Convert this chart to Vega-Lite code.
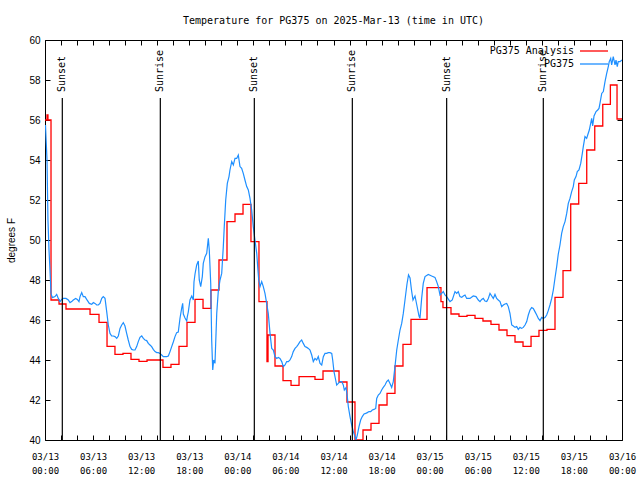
{
"$schema": "https://vega.github.io/schema/vega-lite/v6.json",
"width": 577, "height": 400,
"autosize": {"type": "none"},
"padding": {"left": 45, "top": 40, "right": 18, "bottom": 40},
"background": "white",
"title": {"text": "Temperature for PG375 on 2025-Mar-13 (time in UTC)", "font": "DejaVu Sans Mono", "fontSize": 10, "fontWeight": "normal", "color": "black", "anchor": "middle", "frame": "group", "offset": 9},
"config": {"view": {"stroke": "black", "strokeWidth": 1}, "axis": {"grid": false, "domain": false, "tickColor": "black", "labelColor": "black", "titleColor": "black", "tickWidth": 1}},
"datasets": {
"events": [
{"hour": 2.16, "event": "Sunset"}, {"hour": 14.39, "event": "Sunrise"}, {"hour": 26.12, "event": "Sunset"}, {"hour": 38.35, "event": "Sunrise"}, {"hour": 50.12, "event": "Sunset"}, {"hour": 62.18, "event": "Sunrise"}
],
"temps": [
{"hour":0,"temp":56.0,"series":"PG375 Analysis"},{"hour":0.25,"temp":56.25,"series":"PG375 Analysis"},{"hour":0.37,"temp":56.0,"series":"PG375 Analysis"},{"hour":0.75,"temp":47.0,"series":"PG375 Analysis"},{"hour":1.75,"temp":46.8,"series":"PG375 Analysis"},{"hour":2.62,"temp":46.55,"series":"PG375 Analysis"},{"hour":5.62,"temp":46.28,"series":"PG375 Analysis"},{"hour":6.74,"temp":45.88,"series":"PG375 Analysis"},{"hour":7.74,"temp":44.68,"series":"PG375 Analysis"},{"hour":8.73,"temp":44.28,"series":"PG375 Analysis"},{"hour":9.73,"temp":44.33,"series":"PG375 Analysis"},{"hour":10.73,"temp":44.03,"series":"PG375 Analysis"},{"hour":11.73,"temp":43.93,"series":"PG375 Analysis"},{"hour":12.73,"temp":44.0,"series":"PG375 Analysis"},{"hour":14.72,"temp":43.63,"series":"PG375 Analysis"},{"hour":15.72,"temp":43.78,"series":"PG375 Analysis"},{"hour":16.72,"temp":44.68,"series":"PG375 Analysis"},{"hour":17.72,"temp":45.88,"series":"PG375 Analysis"},{"hour":18.72,"temp":47.03,"series":"PG375 Analysis"},{"hour":19.72,"temp":46.58,"series":"PG375 Analysis"},{"hour":20.71,"temp":47.5,"series":"PG375 Analysis"},{"hour":21.71,"temp":49.0,"series":"PG375 Analysis"},{"hour":22.71,"temp":50.92,"series":"PG375 Analysis"},{"hour":23.71,"temp":51.3,"series":"PG375 Analysis"},{"hour":24.71,"temp":51.78,"series":"PG375 Analysis"},{"hour":25.7,"temp":49.92,"series":"PG375 Analysis"},{"hour":26.7,"temp":46.92,"series":"PG375 Analysis"},{"hour":27.7,"temp":43.92,"series":"PG375 Analysis"},{"hour":27.83,"temp":45.25,"series":"PG375 Analysis"},{"hour":28.7,"temp":43.7,"series":"PG375 Analysis"},{"hour":29.7,"temp":42.97,"series":"PG375 Analysis"},{"hour":30.7,"temp":42.73,"series":"PG375 Analysis"},{"hour":31.7,"temp":43.17,"series":"PG375 Analysis"},{"hour":33.69,"temp":43.03,"series":"PG375 Analysis"},{"hour":34.69,"temp":43.45,"series":"PG375 Analysis"},{"hour":36.69,"temp":42.9,"series":"PG375 Analysis"},{"hour":37.68,"temp":41.9,"series":"PG375 Analysis"},{"hour":38.68,"temp":40.0,"series":"PG375 Analysis"},{"hour":39.68,"temp":40.5,"series":"PG375 Analysis"},{"hour":40.68,"temp":40.83,"series":"PG375 Analysis"},{"hour":41.68,"temp":41.75,"series":"PG375 Analysis"},{"hour":42.68,"temp":42.33,"series":"PG375 Analysis"},{"hour":43.67,"temp":43.7,"series":"PG375 Analysis"},{"hour":44.67,"temp":44.78,"series":"PG375 Analysis"},{"hour":45.67,"temp":46.03,"series":"PG375 Analysis"},{"hour":47.67,"temp":47.62,"series":"PG375 Analysis"},{"hour":49.41,"temp":46.92,"series":"PG375 Analysis"},{"hour":49.66,"temp":46.62,"series":"PG375 Analysis"},{"hour":50.66,"temp":46.3,"series":"PG375 Analysis"},{"hour":51.66,"temp":46.18,"series":"PG375 Analysis"},{"hour":52.66,"temp":46.23,"series":"PG375 Analysis"},{"hour":53.66,"temp":46.08,"series":"PG375 Analysis"},{"hour":54.65,"temp":45.95,"series":"PG375 Analysis"},{"hour":55.65,"temp":45.78,"series":"PG375 Analysis"},{"hour":56.65,"temp":45.5,"series":"PG375 Analysis"},{"hour":57.65,"temp":45.22,"series":"PG375 Analysis"},{"hour":58.65,"temp":44.9,"series":"PG375 Analysis"},{"hour":59.65,"temp":44.68,"series":"PG375 Analysis"},{"hour":60.65,"temp":45.18,"series":"PG375 Analysis"},{"hour":61.64,"temp":45.48,"series":"PG375 Analysis"},{"hour":62.64,"temp":45.53,"series":"PG375 Analysis"},{"hour":63.64,"temp":47.13,"series":"PG375 Analysis"},{"hour":64.64,"temp":48.47,"series":"PG375 Analysis"},{"hour":65.6,"temp":51.8,"series":"PG375 Analysis"},{"hour":66.6,"temp":52.83,"series":"PG375 Analysis"},{"hour":67.6,"temp":54.5,"series":"PG375 Analysis"},{"hour":68.6,"temp":55.7,"series":"PG375 Analysis"},{"hour":69.6,"temp":56.78,"series":"PG375 Analysis"},{"hour":70.55,"temp":57.75,"series":"PG375 Analysis"},{"hour":71.38,"temp":56.05,"series":"PG375 Analysis"},{"hour":72,"temp":56.05,"series":"PG375 Analysis"},
{"hour":0.06,"temp":55.75,"series":"PG375"},{"hour":0.25,"temp":54.0,"series":"PG375"},{"hour":0.37,"temp":51.0,"series":"PG375"},{"hour":0.5,"temp":49.5,"series":"PG375"},{"hour":0.62,"temp":48.5,"series":"PG375"},{"hour":0.75,"temp":47.33,"series":"PG375"},{"hour":0.91,"temp":47.12,"series":"PG375"},{"hour":1.25,"temp":47.17,"series":"PG375"},{"hour":1.46,"temp":47.28,"series":"PG375"},{"hour":1.66,"temp":47.08,"series":"PG375"},{"hour":1.87,"temp":46.92,"series":"PG375"},{"hour":2.08,"temp":47.03,"series":"PG375"},{"hour":2.28,"temp":47.08,"series":"PG375"},{"hour":2.62,"temp":47.08,"series":"PG375"},{"hour":2.91,"temp":47.0,"series":"PG375"},{"hour":3.12,"temp":46.87,"series":"PG375"},{"hour":3.33,"temp":46.92,"series":"PG375"},{"hour":3.53,"temp":47.0,"series":"PG375"},{"hour":3.83,"temp":47.08,"series":"PG375"},{"hour":4.03,"temp":47.03,"series":"PG375"},{"hour":4.24,"temp":46.92,"series":"PG375"},{"hour":4.37,"temp":47.17,"series":"PG375"},{"hour":4.58,"temp":47.37,"series":"PG375"},{"hour":4.78,"temp":47.17,"series":"PG375"},{"hour":4.99,"temp":47.17,"series":"PG375"},{"hour":5.2,"temp":47.03,"series":"PG375"},{"hour":5.53,"temp":46.83,"series":"PG375"},{"hour":5.83,"temp":46.78,"series":"PG375"},{"hour":6.03,"temp":46.87,"series":"PG375"},{"hour":6.24,"temp":46.83,"series":"PG375"},{"hour":6.45,"temp":46.75,"series":"PG375"},{"hour":6.65,"temp":46.75,"series":"PG375"},{"hour":6.86,"temp":46.83,"series":"PG375"},{"hour":7.08,"temp":47.08,"series":"PG375"},{"hour":7.27,"temp":47.17,"series":"PG375"},{"hour":7.49,"temp":47.08,"series":"PG375"},{"hour":7.7,"temp":46.42,"series":"PG375"},{"hour":7.9,"temp":45.75,"series":"PG375"},{"hour":8.11,"temp":45.33,"series":"PG375"},{"hour":8.32,"temp":45.2,"series":"PG375"},{"hour":8.52,"temp":45.2,"series":"PG375"},{"hour":8.73,"temp":45.17,"series":"PG375"},{"hour":8.95,"temp":45.08,"series":"PG375"},{"hour":9.15,"temp":45.2,"series":"PG375"},{"hour":9.36,"temp":45.58,"series":"PG375"},{"hour":9.57,"temp":45.75,"series":"PG375"},{"hour":9.77,"temp":45.87,"series":"PG375"},{"hour":9.98,"temp":45.7,"series":"PG375"},{"hour":10.19,"temp":45.33,"series":"PG375"},{"hour":10.39,"temp":45.0,"series":"PG375"},{"hour":10.61,"temp":44.67,"series":"PG375"},{"hour":10.82,"temp":44.53,"series":"PG375"},{"hour":11.02,"temp":44.5,"series":"PG375"},{"hour":11.23,"temp":44.5,"series":"PG375"},{"hour":11.44,"temp":44.67,"series":"PG375"},{"hour":11.64,"temp":44.92,"series":"PG375"},{"hour":11.85,"temp":45.13,"series":"PG375"},{"hour":12.07,"temp":45.2,"series":"PG375"},{"hour":12.27,"temp":45.08,"series":"PG375"},{"hour":12.48,"temp":45.0,"series":"PG375"},{"hour":12.69,"temp":44.97,"series":"PG375"},{"hour":12.89,"temp":44.83,"series":"PG375"},{"hour":13.1,"temp":44.75,"series":"PG375"},{"hour":13.31,"temp":44.67,"series":"PG375"},{"hour":13.51,"temp":44.53,"series":"PG375"},{"hour":13.73,"temp":44.42,"series":"PG375"},{"hour":13.94,"temp":44.37,"series":"PG375"},{"hour":14.14,"temp":44.37,"series":"PG375"},{"hour":14.35,"temp":44.33,"series":"PG375"},{"hour":14.56,"temp":44.25,"series":"PG375"},{"hour":14.76,"temp":44.17,"series":"PG375"},{"hour":14.97,"temp":44.17,"series":"PG375"},{"hour":15.19,"temp":44.17,"series":"PG375"},{"hour":15.39,"temp":44.2,"series":"PG375"},{"hour":15.6,"temp":44.42,"series":"PG375"},{"hour":15.81,"temp":44.67,"series":"PG375"},{"hour":16.01,"temp":44.9,"series":"PG375"},{"hour":16.22,"temp":45.17,"series":"PG375"},{"hour":16.43,"temp":45.37,"series":"PG375"},{"hour":16.63,"temp":45.4,"series":"PG375"},{"hour":16.85,"temp":46.1,"series":"PG375"},{"hour":17.06,"temp":46.6,"series":"PG375"},{"hour":17.18,"temp":46.83,"series":"PG375"},{"hour":17.26,"temp":46.3,"series":"PG375"},{"hour":17.47,"temp":46.1,"series":"PG375"},{"hour":17.68,"temp":45.95,"series":"PG375"},{"hour":17.76,"temp":46.17,"series":"PG375"},{"hour":17.88,"temp":46.4,"series":"PG375"},{"hour":18.09,"temp":47.0,"series":"PG375"},{"hour":18.31,"temp":47.2,"series":"PG375"},{"hour":18.51,"temp":47.0,"series":"PG375"},{"hour":18.59,"temp":47.9,"series":"PG375"},{"hour":18.72,"temp":48.3,"series":"PG375"},{"hour":18.93,"temp":48.75,"series":"PG375"},{"hour":19.13,"temp":48.95,"series":"PG375"},{"hour":19.25,"temp":48.0,"series":"PG375"},{"hour":19.43,"temp":47.67,"series":"PG375"},{"hour":19.63,"temp":48.17,"series":"PG375"},{"hour":19.75,"temp":48.83,"series":"PG375"},{"hour":19.97,"temp":49.17,"series":"PG375"},{"hour":20.18,"temp":49.33,"series":"PG375"},{"hour":20.38,"temp":50.08,"series":"PG375"},{"hour":20.5,"temp":49.5,"series":"PG375"},{"hour":20.68,"temp":47.83,"series":"PG375"},{"hour":20.8,"temp":45.0,"series":"PG375"},{"hour":20.93,"temp":43.5,"series":"PG375"},{"hour":21.05,"temp":44.0,"series":"PG375"},{"hour":21.21,"temp":43.83,"series":"PG375"},{"hour":21.43,"temp":46.33,"series":"PG375"},{"hour":21.62,"temp":47.42,"series":"PG375"},{"hour":21.84,"temp":48.0,"series":"PG375"},{"hour":22.05,"temp":48.33,"series":"PG375"},{"hour":22.25,"temp":49.67,"series":"PG375"},{"hour":22.37,"temp":50.67,"series":"PG375"},{"hour":22.55,"temp":52.0,"series":"PG375"},{"hour":22.75,"temp":52.83,"series":"PG375"},{"hour":22.96,"temp":53.17,"series":"PG375"},{"hour":23.08,"temp":53.5,"series":"PG375"},{"hour":23.3,"temp":53.92,"series":"PG375"},{"hour":23.5,"temp":53.75,"series":"PG375"},{"hour":23.71,"temp":54.08,"series":"PG375"},{"hour":23.92,"temp":54.08,"series":"PG375"},{"hour":24.12,"temp":54.25,"series":"PG375"},{"hour":24.33,"temp":53.67,"series":"PG375"},{"hour":24.54,"temp":53.58,"series":"PG375"},{"hour":24.74,"temp":53.33,"series":"PG375"},{"hour":24.95,"temp":53.0,"series":"PG375"},{"hour":25.17,"temp":52.67,"series":"PG375"},{"hour":25.37,"temp":52.5,"series":"PG375"},{"hour":25.58,"temp":52.08,"series":"PG375"},{"hour":25.79,"temp":51.5,"series":"PG375"},{"hour":25.99,"temp":50.67,"series":"PG375"},{"hour":26.2,"temp":50.0,"series":"PG375"},{"hour":26.42,"temp":49.33,"series":"PG375"},{"hour":26.54,"temp":48.67,"series":"PG375"},{"hour":26.67,"temp":48.0,"series":"PG375"},{"hour":26.83,"temp":47.67,"series":"PG375"},{"hour":27.04,"temp":47.92,"series":"PG375"},{"hour":27.24,"temp":47.67,"series":"PG375"},{"hour":27.45,"temp":47.33,"series":"PG375"},{"hour":27.66,"temp":46.83,"series":"PG375"},{"hour":27.86,"temp":46.33,"series":"PG375"},{"hour":28.08,"temp":45.33,"series":"PG375"},{"hour":28.29,"temp":44.58,"series":"PG375"},{"hour":28.49,"temp":44.5,"series":"PG375"},{"hour":28.7,"temp":44.17,"series":"PG375"},{"hour":28.91,"temp":44.08,"series":"PG375"},{"hour":29.11,"temp":44.13,"series":"PG375"},{"hour":29.32,"temp":44.08,"series":"PG375"},{"hour":29.54,"temp":43.92,"series":"PG375"},{"hour":29.74,"temp":43.67,"series":"PG375"},{"hour":29.95,"temp":43.75,"series":"PG375"},{"hour":30.16,"temp":43.92,"series":"PG375"},{"hour":30.36,"temp":43.92,"series":"PG375"},{"hour":30.57,"temp":44.0,"series":"PG375"},{"hour":30.78,"temp":44.17,"series":"PG375"},{"hour":30.98,"temp":44.42,"series":"PG375"},{"hour":31.2,"temp":44.58,"series":"PG375"},{"hour":31.41,"temp":44.67,"series":"PG375"},{"hour":31.61,"temp":44.78,"series":"PG375"},{"hour":31.82,"temp":44.92,"series":"PG375"},{"hour":32.03,"temp":45.0,"series":"PG375"},{"hour":32.23,"temp":44.83,"series":"PG375"},{"hour":32.44,"temp":44.67,"series":"PG375"},{"hour":32.66,"temp":44.63,"series":"PG375"},{"hour":32.86,"temp":44.58,"series":"PG375"},{"hour":33.07,"temp":44.5,"series":"PG375"},{"hour":33.28,"temp":44.25,"series":"PG375"},{"hour":33.48,"temp":43.92,"series":"PG375"},{"hour":33.69,"temp":44.08,"series":"PG375"},{"hour":33.9,"temp":44.0,"series":"PG375"},{"hour":34.1,"temp":44.17,"series":"PG375"},{"hour":34.32,"temp":43.83,"series":"PG375"},{"hour":34.53,"temp":43.75,"series":"PG375"},{"hour":34.73,"temp":44.17,"series":"PG375"},{"hour":34.94,"temp":44.33,"series":"PG375"},{"hour":35.15,"temp":44.33,"series":"PG375"},{"hour":35.35,"temp":44.37,"series":"PG375"},{"hour":35.56,"temp":44.37,"series":"PG375"},{"hour":35.78,"temp":44.33,"series":"PG375"},{"hour":35.9,"temp":44.0,"series":"PG375"},{"hour":36.06,"temp":43.42,"series":"PG375"},{"hour":36.27,"temp":43.0,"series":"PG375"},{"hour":36.4,"temp":42.75,"series":"PG375"},{"hour":36.6,"temp":42.83,"series":"PG375"},{"hour":36.81,"temp":42.92,"series":"PG375"},{"hour":37.02,"temp":42.92,"series":"PG375"},{"hour":37.22,"temp":42.75,"series":"PG375"},{"hour":37.35,"temp":42.5,"series":"PG375"},{"hour":37.56,"temp":42.62,"series":"PG375"},{"hour":37.72,"temp":42.17,"series":"PG375"},{"hour":37.85,"temp":41.67,"series":"PG375"},{"hour":38.06,"temp":41.17,"series":"PG375"},{"hour":38.27,"temp":40.75,"series":"PG375"},{"hour":38.47,"temp":40.42,"series":"PG375"},{"hour":38.68,"temp":40.17,"series":"PG375"},{"hour":38.81,"temp":40.0,"series":"PG375"},{"hour":38.97,"temp":40.25,"series":"PG375"},{"hour":39.18,"temp":40.67,"series":"PG375"},{"hour":39.39,"temp":41.0,"series":"PG375"},{"hour":39.59,"temp":41.17,"series":"PG375"},{"hour":39.81,"temp":41.3,"series":"PG375"},{"hour":40.02,"temp":41.33,"series":"PG375"},{"hour":40.22,"temp":41.37,"series":"PG375"},{"hour":40.43,"temp":41.42,"series":"PG375"},{"hour":40.64,"temp":41.42,"series":"PG375"},{"hour":40.84,"temp":41.5,"series":"PG375"},{"hour":41.05,"temp":41.53,"series":"PG375"},{"hour":41.27,"temp":41.58,"series":"PG375"},{"hour":41.39,"temp":42.08,"series":"PG375"},{"hour":41.59,"temp":42.25,"series":"PG375"},{"hour":41.8,"temp":42.33,"series":"PG375"},{"hour":42.01,"temp":42.5,"series":"PG375"},{"hour":42.21,"temp":42.63,"series":"PG375"},{"hour":42.43,"temp":42.75,"series":"PG375"},{"hour":42.64,"temp":42.92,"series":"PG375"},{"hour":42.84,"temp":43.0,"series":"PG375"},{"hour":43.05,"temp":42.83,"series":"PG375"},{"hour":43.26,"temp":42.63,"series":"PG375"},{"hour":43.46,"temp":42.92,"series":"PG375"},{"hour":43.67,"temp":43.67,"series":"PG375"},{"hour":43.89,"temp":44.5,"series":"PG375"},{"hour":44.09,"temp":45.0,"series":"PG375"},{"hour":44.3,"temp":45.5,"series":"PG375"},{"hour":44.51,"temp":45.83,"series":"PG375"},{"hour":44.71,"temp":46.33,"series":"PG375"},{"hour":44.92,"temp":47.0,"series":"PG375"},{"hour":45.17,"temp":47.8,"series":"PG375"},{"hour":45.36,"temp":48.25,"series":"PG375"},{"hour":45.55,"temp":48.1,"series":"PG375"},{"hour":45.73,"temp":47.5,"series":"PG375"},{"hour":45.92,"temp":47.0,"series":"PG375"},{"hour":46.17,"temp":47.2,"series":"PG375"},{"hour":46.42,"temp":46.7,"series":"PG375"},{"hour":46.67,"temp":46.2,"series":"PG375"},{"hour":46.79,"temp":46.08,"series":"PG375"},{"hour":47.0,"temp":47.08,"series":"PG375"},{"hour":47.2,"temp":47.83,"series":"PG375"},{"hour":47.42,"temp":48.17,"series":"PG375"},{"hour":47.83,"temp":48.28,"series":"PG375"},{"hour":48.25,"temp":48.2,"series":"PG375"},{"hour":48.66,"temp":48.13,"series":"PG375"},{"hour":48.87,"temp":47.92,"series":"PG375"},{"hour":49.08,"temp":47.67,"series":"PG375"},{"hour":49.29,"temp":47.25,"series":"PG375"},{"hour":49.5,"temp":47.33,"series":"PG375"},{"hour":49.7,"temp":47.42,"series":"PG375"},{"hour":49.91,"temp":47.25,"series":"PG375"},{"hour":50.12,"temp":47.17,"series":"PG375"},{"hour":50.54,"temp":46.92,"series":"PG375"},{"hour":50.82,"temp":47.0,"series":"PG375"},{"hour":51.16,"temp":47.42,"series":"PG375"},{"hour":51.37,"temp":47.33,"series":"PG375"},{"hour":51.57,"temp":47.42,"series":"PG375"},{"hour":51.78,"temp":47.17,"series":"PG375"},{"hour":52.0,"temp":47.13,"series":"PG375"},{"hour":52.2,"temp":47.2,"series":"PG375"},{"hour":52.41,"temp":47.25,"series":"PG375"},{"hour":52.62,"temp":47.08,"series":"PG375"},{"hour":53.03,"temp":47.08,"series":"PG375"},{"hour":53.44,"temp":47.2,"series":"PG375"},{"hour":53.78,"temp":47.17,"series":"PG375"},{"hour":54.07,"temp":47.0,"series":"PG375"},{"hour":54.28,"temp":46.92,"series":"PG375"},{"hour":54.49,"temp":47.03,"series":"PG375"},{"hour":54.69,"temp":47.08,"series":"PG375"},{"hour":54.9,"temp":46.95,"series":"PG375"},{"hour":55.12,"temp":46.92,"series":"PG375"},{"hour":55.32,"temp":47.08,"series":"PG375"},{"hour":55.53,"temp":47.33,"series":"PG375"},{"hour":55.74,"temp":47.2,"series":"PG375"},{"hour":55.94,"temp":47.08,"series":"PG375"},{"hour":56.15,"temp":47.28,"series":"PG375"},{"hour":56.36,"temp":47.08,"series":"PG375"},{"hour":56.56,"temp":47.0,"series":"PG375"},{"hour":56.78,"temp":46.92,"series":"PG375"},{"hour":56.99,"temp":46.67,"series":"PG375"},{"hour":57.19,"temp":46.75,"series":"PG375"},{"hour":57.4,"temp":46.8,"series":"PG375"},{"hour":57.61,"temp":46.83,"series":"PG375"},{"hour":57.81,"temp":46.67,"series":"PG375"},{"hour":58.02,"temp":46.33,"series":"PG375"},{"hour":58.24,"temp":45.75,"series":"PG375"},{"hour":58.44,"temp":45.7,"series":"PG375"},{"hour":58.65,"temp":45.63,"series":"PG375"},{"hour":58.86,"temp":45.67,"series":"PG375"},{"hour":59.06,"temp":45.53,"series":"PG375"},{"hour":59.27,"temp":45.63,"series":"PG375"},{"hour":59.48,"temp":45.58,"series":"PG375"},{"hour":59.68,"temp":45.63,"series":"PG375"},{"hour":59.9,"temp":45.75,"series":"PG375"},{"hour":60.11,"temp":45.92,"series":"PG375"},{"hour":60.31,"temp":46.25,"series":"PG375"},{"hour":60.52,"temp":46.5,"series":"PG375"},{"hour":60.73,"temp":46.62,"series":"PG375"},{"hour":60.93,"temp":46.58,"series":"PG375"},{"hour":61.14,"temp":46.42,"series":"PG375"},{"hour":61.36,"temp":46.25,"series":"PG375"},{"hour":61.56,"temp":46.08,"series":"PG375"},{"hour":61.77,"temp":45.97,"series":"PG375"},{"hour":61.98,"temp":46.13,"series":"PG375"},{"hour":62.18,"temp":46.08,"series":"PG375"},{"hour":62.39,"temp":46.12,"series":"PG375"},{"hour":62.6,"temp":46.25,"series":"PG375"},{"hour":62.8,"temp":46.47,"series":"PG375"},{"hour":63.01,"temp":46.75,"series":"PG375"},{"hour":63.23,"temp":47.08,"series":"PG375"},{"hour":63.43,"temp":47.5,"series":"PG375"},{"hour":63.64,"temp":48.1,"series":"PG375"},{"hour":63.85,"temp":48.67,"series":"PG375"},{"hour":64.05,"temp":49.3,"series":"PG375"},{"hour":64.26,"temp":49.75,"series":"PG375"},{"hour":64.47,"temp":50.33,"series":"PG375"},{"hour":64.67,"temp":50.67,"series":"PG375"},{"hour":64.89,"temp":50.92,"series":"PG375"},{"hour":65.1,"temp":51.33,"series":"PG375"},{"hour":65.3,"temp":51.83,"series":"PG375"},{"hour":65.51,"temp":52.08,"series":"PG375"},{"hour":65.72,"temp":52.42,"series":"PG375"},{"hour":65.92,"temp":52.67,"series":"PG375"},{"hour":66.05,"temp":53.0,"series":"PG375"},{"hour":66.26,"temp":53.17,"series":"PG375"},{"hour":66.42,"temp":53.42,"series":"PG375"},{"hour":66.63,"temp":53.5,"series":"PG375"},{"hour":66.85,"temp":53.83,"series":"PG375"},{"hour":67.05,"temp":54.33,"series":"PG375"},{"hour":67.17,"temp":54.67,"series":"PG375"},{"hour":67.38,"temp":55.17,"series":"PG375"},{"hour":67.59,"temp":55.08,"series":"PG375"},{"hour":67.72,"temp":55.25,"series":"PG375"},{"hour":67.92,"temp":55.5,"series":"PG375"},{"hour":68.09,"temp":55.83,"series":"PG375"},{"hour":68.22,"temp":56.08,"series":"PG375"},{"hour":68.34,"temp":55.7,"series":"PG375"},{"hour":68.51,"temp":56.2,"series":"PG375"},{"hour":68.76,"temp":56.42,"series":"PG375"},{"hour":68.97,"temp":56.5,"series":"PG375"},{"hour":69.13,"temp":56.58,"series":"PG375"},{"hour":69.25,"temp":56.83,"series":"PG375"},{"hour":69.47,"temp":57.33,"series":"PG375"},{"hour":69.67,"temp":57.42,"series":"PG375"},{"hour":69.88,"temp":57.92,"series":"PG375"},{"hour":70.09,"temp":58.33,"series":"PG375"},{"hour":70.29,"temp":58.67,"series":"PG375"},{"hour":70.41,"temp":58.92,"series":"PG375"},{"hour":70.59,"temp":59.08,"series":"PG375"},{"hour":70.71,"temp":58.75,"series":"PG375"},{"hour":70.91,"temp":59.17,"series":"PG375"},{"hour":71.13,"temp":58.75,"series":"PG375"},{"hour":71.25,"temp":59.0,"series":"PG375"},{"hour":71.41,"temp":58.67,"series":"PG375"},{"hour":71.53,"temp":58.92,"series":"PG375"},{"hour":71.75,"temp":58.92,"series":"PG375"},{"hour":72.0,"temp":59.0,"series":"PG375"}
]
},
"resolve": {"axis": {"x": "independent", "y": "independent"}},
"layer": [
{
"data": {"name": "temps"},
"transform": [{"filter": "datum.series == 'PG375 Analysis'"}],
"mark": {"type": "line", "interpolate": "step-after", "strokeWidth": 1.3, "clip": true},
"encoding": {
"x": {"field": "hour", "type": "quantitative", "scale": {"domain": [0, 72], "nice": false, "zero": false},
 "axis": {"orient": "bottom", "values": [0,2,4,6,8,10,12,14,16,18,20,22,24,26,28,30,32,34,36,38,40,42,44,46,48,50,52,54,56,58,60,62,64,66,68,70,72],
  "labelExpr": "datum.value % 6 == 0 ? ['03/' + (13 + floor(datum.value / 24)), (datum.value % 24 < 10 ? '0' : '') + (datum.value % 24) + ':00'] : ''",
  "tickSize": -5, "labelPadding": 17, "labelFont": "DejaVu Sans Mono", "labelFontSize": 9, "labelLineHeight": 14, "labelOverlap": false, "labelFlush": false, "labelAngle": 0, "title": null}},
"y": {"field": "temp", "type": "quantitative", "scale": {"domain": [40, 60], "nice": false, "zero": false},
 "axis": {"orient": "left", "values": [40,42,44,46,48,50,52,54,56,58,60], "tickSize": -5, "labelPadding": 10, "labelFont": "Liberation Sans", "labelFontSize": 10, "labelOverlap": false, "labelFlush": false,
  "title": "degrees F", "titleFont": "Liberation Sans", "titleFontSize": 10, "titleFontWeight": "normal", "titlePadding": 12}},
"color": {"field": "series", "type": "nominal", "scale": {"domain": ["PG375 Analysis", "PG375"], "range": ["#ff0000", "#1e8fff"]},
 "legend": {"orient": "none", "legendX": 541, "legendY": 3, "title": null, "symbolType": "M-2,0H2", "symbolSize": 196, "symbolStrokeWidth": 1.3, "labelFont": "DejaVu Sans Mono", "labelFontSize": 10, "labelColor": "black", "labelAlign": "right", "labelOffset": -28, "rowPadding": 0, "padding": 0}}
}
},
{
"data": {"name": "temps"},
"transform": [{"filter": "datum.series == 'PG375'"}],
"mark": {"type": "line", "interpolate": "linear", "strokeWidth": 1.2, "clip": true},
"encoding": {
"x": {"field": "hour", "type": "quantitative", "scale": {"domain": [0, 72], "nice": false, "zero": false},
 "axis": {"orient": "top", "values": [0,2,4,6,8,10,12,14,16,18,20,22,24,26,28,30,32,34,36,38,40,42,44,46,48,50,52,54,56,58,60,62,64,66,68,70,72], "tickSize": -5, "labels": false, "title": null}},
"y": {"field": "temp", "type": "quantitative", "scale": {"domain": [40, 60], "nice": false, "zero": false},
 "axis": {"orient": "right", "values": [40,42,44,46,48,50,52,54,56,58,60], "tickSize": -5, "labels": false, "title": null}},
"color": {"field": "series", "type": "nominal", "scale": {"domain": ["PG375 Analysis", "PG375"], "range": ["#ff0000", "#1e8fff"]}}
}
},
{
"data": {"name": "events"},
"mark": {"type": "rule", "color": "black", "strokeWidth": 1.2},
"encoding": {
"x": {"field": "hour", "type": "quantitative", "scale": {"domain": [0, 72], "nice": false, "zero": false}, "axis": null},
"y": {"datum": 57.1, "type": "quantitative", "scale": {"domain": [40, 60], "nice": false, "zero": false}, "axis": null},
"y2": {"datum": 40}
}
},
{
"data": {"name": "events"},
"mark": {"type": "text", "angle": 270, "align": "left", "baseline": "middle", "font": "DejaVu Sans Mono", "fontSize": 10, "color": "black"},
"encoding": {
"x": {"field": "hour", "type": "quantitative", "scale": {"domain": [0, 72], "nice": false, "zero": false}, "axis": null},
"y": {"datum": 57.4, "type": "quantitative", "scale": {"domain": [40, 60], "nice": false, "zero": false}, "axis": null},
"text": {"field": "event"}
}
}
]
}
